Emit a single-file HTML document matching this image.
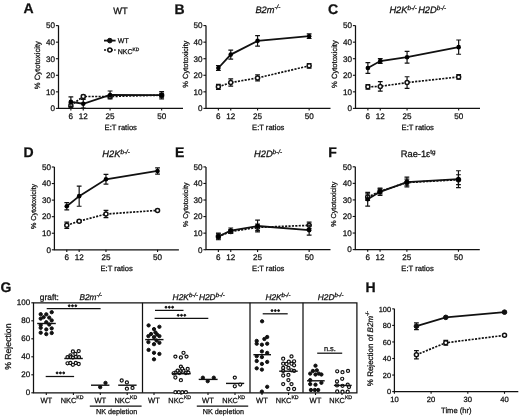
<!DOCTYPE html>
<html><head><meta charset="utf-8"><title>Figure</title>
<style>
html,body{margin:0;padding:0;background:#fff;}
body{width:520px;height:418px;overflow:hidden;}
svg{display:block;will-change:transform;text-rendering:geometricPrecision;font-family:"Liberation Sans",sans-serif;}
</style></head>
<body>
<svg width="520" height="418" viewBox="0 0 520 418" fill="#111" stroke="#111">
<rect width="520" height="418" fill="#fff" stroke="none"/>
<g stroke="none">
</g>
<g>
<path d="M58.5 25.6V108.4H183" fill="none" stroke-width="1.25"/>
<line x1="55.9" y1="108.4" x2="58.5" y2="108.4" stroke-width="1.1" />
<text stroke="#111" stroke-width="0.26" x="55" y="111.2" font-size="8.1" text-anchor="end" >0</text>
<line x1="55.9" y1="91.84" x2="58.5" y2="91.84" stroke-width="1.1" />
<text stroke="#111" stroke-width="0.26" x="55" y="94.64" font-size="8.1" text-anchor="end" >10</text>
<line x1="55.9" y1="75.28" x2="58.5" y2="75.28" stroke-width="1.1" />
<text stroke="#111" stroke-width="0.26" x="55" y="78.08" font-size="8.1" text-anchor="end" >20</text>
<line x1="55.9" y1="58.72" x2="58.5" y2="58.72" stroke-width="1.1" />
<text stroke="#111" stroke-width="0.26" x="55" y="61.52" font-size="8.1" text-anchor="end" >30</text>
<line x1="55.9" y1="42.16" x2="58.5" y2="42.16" stroke-width="1.1" />
<text stroke="#111" stroke-width="0.26" x="55" y="44.96" font-size="8.1" text-anchor="end" >40</text>
<line x1="55.9" y1="25.6" x2="58.5" y2="25.6" stroke-width="1.1" />
<text stroke="#111" stroke-width="0.26" x="55" y="28.4" font-size="8.1" text-anchor="end" >50</text>
<line x1="70.88" y1="108.4" x2="70.88" y2="110.6" stroke-width="1.1" />
<text stroke="#111" stroke-width="0.26" x="70.88" y="118.8" font-size="8.1" text-anchor="middle" >6</text>
<line x1="83.26" y1="108.4" x2="83.26" y2="110.6" stroke-width="1.1" />
<text stroke="#111" stroke-width="0.26" x="83.26" y="118.8" font-size="8.1" text-anchor="middle" >12</text>
<line x1="110.08" y1="108.4" x2="110.08" y2="110.6" stroke-width="1.1" />
<text stroke="#111" stroke-width="0.26" x="110.08" y="118.8" font-size="8.1" text-anchor="middle" >25</text>
<line x1="161.65" y1="108.4" x2="161.65" y2="110.6" stroke-width="1.1" />
<text stroke="#111" stroke-width="0.26" x="161.65" y="118.8" font-size="8.1" text-anchor="middle" >50</text>
<text stroke="#111" stroke-width="0.26" x="120.75" y="129.5" font-size="7.6" text-anchor="middle" >E:T ratios</text>
<text stroke="#111" stroke-width="0.26" transform="translate(39.8 65.2) rotate(-90)" font-size="7.7" text-anchor="middle">% Cytotoxicity</text>
<polyline points="70.88,105.42 83.26,96.48 110.08,96.48 161.65,95.15" fill="none" stroke-width="1.7" stroke-dasharray="2.1 1.3"/>
<path d="M70.88 102.94V107.9M68.48 102.94H73.28M68.48 107.9H73.28" fill="none" stroke-width="1.2"/>
<path d="M83.26 95.15V97.8M80.86 95.15H85.66M80.86 97.8H85.66" fill="none" stroke-width="1.2"/>
<path d="M110.08 95.15V97.8M107.67 95.15H112.48M107.67 97.8H112.48" fill="none" stroke-width="1.2"/>
<path d="M161.65 93.16V97.14M159.25 93.16H164.05M159.25 97.14H164.05" fill="none" stroke-width="1.2"/>
<circle cx="70.88" cy="105.42" r="2.0" fill="#fff" stroke-width="1.5"/>
<circle cx="83.26" cy="96.48" r="2.0" fill="#fff" stroke-width="1.5"/>
<circle cx="110.08" cy="96.48" r="2.0" fill="#fff" stroke-width="1.5"/>
<circle cx="161.65" cy="95.15" r="2.0" fill="#fff" stroke-width="1.5"/>
<polyline points="70.88,101.78 83.26,103.76 110.08,94.99 161.65,95.15" fill="none" stroke-width="1.8"/>
<path d="M70.88 96.97V106.58M68.48 96.97H73.28M68.48 106.58H73.28" fill="none" stroke-width="1.2"/>
<path d="M83.26 99.46V108.07M80.86 99.46H85.66M80.86 108.07H85.66" fill="none" stroke-width="1.2"/>
<path d="M110.08 91.01V98.96M107.67 91.01H112.48M107.67 98.96H112.48" fill="none" stroke-width="1.2"/>
<path d="M161.65 91.51V98.8M159.25 91.51H164.05M159.25 98.8H164.05" fill="none" stroke-width="1.2"/>
<circle cx="70.88" cy="101.78" r="2.3" fill="#000" stroke="none"/>
<circle cx="83.26" cy="103.76" r="2.3" fill="#000" stroke="none"/>
<circle cx="110.08" cy="94.99" r="2.3" fill="#000" stroke="none"/>
<circle cx="161.65" cy="95.15" r="2.3" fill="#000" stroke="none"/>
<path d="M206 25.6V108.4H330.5" fill="none" stroke-width="1.25"/>
<line x1="203.4" y1="108.4" x2="206" y2="108.4" stroke-width="1.1" />
<text stroke="#111" stroke-width="0.26" x="202.5" y="111.2" font-size="8.1" text-anchor="end" >0</text>
<line x1="203.4" y1="91.84" x2="206" y2="91.84" stroke-width="1.1" />
<text stroke="#111" stroke-width="0.26" x="202.5" y="94.64" font-size="8.1" text-anchor="end" >10</text>
<line x1="203.4" y1="75.28" x2="206" y2="75.28" stroke-width="1.1" />
<text stroke="#111" stroke-width="0.26" x="202.5" y="78.08" font-size="8.1" text-anchor="end" >20</text>
<line x1="203.4" y1="58.72" x2="206" y2="58.72" stroke-width="1.1" />
<text stroke="#111" stroke-width="0.26" x="202.5" y="61.52" font-size="8.1" text-anchor="end" >30</text>
<line x1="203.4" y1="42.16" x2="206" y2="42.16" stroke-width="1.1" />
<text stroke="#111" stroke-width="0.26" x="202.5" y="44.96" font-size="8.1" text-anchor="end" >40</text>
<line x1="203.4" y1="25.6" x2="206" y2="25.6" stroke-width="1.1" />
<text stroke="#111" stroke-width="0.26" x="202.5" y="28.4" font-size="8.1" text-anchor="end" >50</text>
<line x1="218.38" y1="108.4" x2="218.38" y2="110.6" stroke-width="1.1" />
<text stroke="#111" stroke-width="0.26" x="218.38" y="118.8" font-size="8.1" text-anchor="middle" >6</text>
<line x1="230.76" y1="108.4" x2="230.76" y2="110.6" stroke-width="1.1" />
<text stroke="#111" stroke-width="0.26" x="230.76" y="118.8" font-size="8.1" text-anchor="middle" >12</text>
<line x1="257.57" y1="108.4" x2="257.57" y2="110.6" stroke-width="1.1" />
<text stroke="#111" stroke-width="0.26" x="257.57" y="118.8" font-size="8.1" text-anchor="middle" >25</text>
<line x1="309.15" y1="108.4" x2="309.15" y2="110.6" stroke-width="1.1" />
<text stroke="#111" stroke-width="0.26" x="309.15" y="118.8" font-size="8.1" text-anchor="middle" >50</text>
<text stroke="#111" stroke-width="0.26" x="268.25" y="129.5" font-size="7.6" text-anchor="middle" >E:T ratios</text>
<text stroke="#111" stroke-width="0.26" transform="translate(187.5 64.2) rotate(-90)" font-size="7.5" text-anchor="middle">% Cytotoxicity</text>
<polyline points="218.38,86.87 230.76,82.57 257.57,77.93 309.15,65.84" fill="none" stroke-width="1.7" stroke-dasharray="2.1 1.3"/>
<path d="M218.38 84.39V89.36M215.98 84.39H220.78M215.98 89.36H220.78" fill="none" stroke-width="1.2"/>
<path d="M230.76 78.92V86.21M228.36 78.92H233.16M228.36 86.21H233.16" fill="none" stroke-width="1.2"/>
<path d="M257.57 74.95V80.91M255.17 74.95H259.97M255.17 80.91H259.97" fill="none" stroke-width="1.2"/>
<path d="M309.15 63.52V68.16M306.75 63.52H311.55M306.75 68.16H311.55" fill="none" stroke-width="1.2"/>
<circle cx="218.38" cy="86.87" r="2.0" fill="#fff" stroke-width="1.5"/>
<circle cx="230.76" cy="82.57" r="2.0" fill="#fff" stroke-width="1.5"/>
<circle cx="257.57" cy="77.93" r="2.0" fill="#fff" stroke-width="1.5"/>
<circle cx="309.15" cy="65.84" r="2.0" fill="#fff" stroke-width="1.5"/>
<polyline points="218.38,67.99 230.76,54.58 257.57,40.84 309.15,36.2" fill="none" stroke-width="1.8"/>
<path d="M218.38 65.51V70.48M215.98 65.51H220.78M215.98 70.48H220.78" fill="none" stroke-width="1.2"/>
<path d="M230.76 50.11V59.05M228.36 50.11H233.16M228.36 59.05H233.16" fill="none" stroke-width="1.2"/>
<path d="M257.57 35.54V46.13M255.17 35.54H259.97M255.17 46.13H259.97" fill="none" stroke-width="1.2"/>
<path d="M309.15 33.88V38.52M306.75 33.88H311.55M306.75 38.52H311.55" fill="none" stroke-width="1.2"/>
<circle cx="218.38" cy="67.99" r="2.3" fill="#000" stroke="none"/>
<circle cx="230.76" cy="54.58" r="2.3" fill="#000" stroke="none"/>
<circle cx="257.57" cy="40.84" r="2.3" fill="#000" stroke="none"/>
<circle cx="309.15" cy="36.2" r="2.3" fill="#000" stroke="none"/>
<path d="M355.5 25.6V108.4H480" fill="none" stroke-width="1.25"/>
<line x1="352.9" y1="108.4" x2="355.5" y2="108.4" stroke-width="1.1" />
<text stroke="#111" stroke-width="0.26" x="352" y="111.2" font-size="8.1" text-anchor="end" >0</text>
<line x1="352.9" y1="91.84" x2="355.5" y2="91.84" stroke-width="1.1" />
<text stroke="#111" stroke-width="0.26" x="352" y="94.64" font-size="8.1" text-anchor="end" >10</text>
<line x1="352.9" y1="75.28" x2="355.5" y2="75.28" stroke-width="1.1" />
<text stroke="#111" stroke-width="0.26" x="352" y="78.08" font-size="8.1" text-anchor="end" >20</text>
<line x1="352.9" y1="58.72" x2="355.5" y2="58.72" stroke-width="1.1" />
<text stroke="#111" stroke-width="0.26" x="352" y="61.52" font-size="8.1" text-anchor="end" >30</text>
<line x1="352.9" y1="42.16" x2="355.5" y2="42.16" stroke-width="1.1" />
<text stroke="#111" stroke-width="0.26" x="352" y="44.96" font-size="8.1" text-anchor="end" >40</text>
<line x1="352.9" y1="25.6" x2="355.5" y2="25.6" stroke-width="1.1" />
<text stroke="#111" stroke-width="0.26" x="352" y="28.4" font-size="8.1" text-anchor="end" >50</text>
<line x1="367.88" y1="108.4" x2="367.88" y2="110.6" stroke-width="1.1" />
<text stroke="#111" stroke-width="0.26" x="367.88" y="118.8" font-size="8.1" text-anchor="middle" >6</text>
<line x1="380.26" y1="108.4" x2="380.26" y2="110.6" stroke-width="1.1" />
<text stroke="#111" stroke-width="0.26" x="380.26" y="118.8" font-size="8.1" text-anchor="middle" >12</text>
<line x1="407.07" y1="108.4" x2="407.07" y2="110.6" stroke-width="1.1" />
<text stroke="#111" stroke-width="0.26" x="407.07" y="118.8" font-size="8.1" text-anchor="middle" >25</text>
<line x1="458.65" y1="108.4" x2="458.65" y2="110.6" stroke-width="1.1" />
<text stroke="#111" stroke-width="0.26" x="458.65" y="118.8" font-size="8.1" text-anchor="middle" >50</text>
<text stroke="#111" stroke-width="0.26" x="417.75" y="129.5" font-size="7.6" text-anchor="middle" >E:T ratios</text>
<text stroke="#111" stroke-width="0.26" transform="translate(337.4 64.1) rotate(-90)" font-size="7.6" text-anchor="middle">% Cytotoxicity</text>
<polyline points="367.88,86.87 380.26,86.38 407.07,82.57 458.65,76.94" fill="none" stroke-width="1.7" stroke-dasharray="2.1 1.3"/>
<path d="M367.88 84.55V89.19M365.48 84.55H370.28M365.48 89.19H370.28" fill="none" stroke-width="1.2"/>
<path d="M380.26 81.57V91.18M377.86 81.57H382.66M377.86 91.18H382.66" fill="none" stroke-width="1.2"/>
<path d="M407.07 76.77V88.36M404.68 76.77H409.47M404.68 88.36H409.47" fill="none" stroke-width="1.2"/>
<path d="M458.65 74.62V79.25M456.25 74.62H461.05M456.25 79.25H461.05" fill="none" stroke-width="1.2"/>
<circle cx="367.88" cy="86.87" r="2.0" fill="#fff" stroke-width="1.5"/>
<circle cx="380.26" cy="86.38" r="2.0" fill="#fff" stroke-width="1.5"/>
<circle cx="407.07" cy="82.57" r="2.0" fill="#fff" stroke-width="1.5"/>
<circle cx="458.65" cy="76.94" r="2.0" fill="#fff" stroke-width="1.5"/>
<polyline points="367.88,67.99 380.26,61.04 407.07,57.23 458.65,47.13" fill="none" stroke-width="1.8"/>
<path d="M367.88 62.69V73.29M365.48 62.69H370.28M365.48 73.29H370.28" fill="none" stroke-width="1.2"/>
<path d="M380.26 58.72V63.36M377.86 58.72H382.66M377.86 63.36H382.66" fill="none" stroke-width="1.2"/>
<path d="M407.07 51.43V63.03M404.68 51.43H409.47M404.68 63.03H409.47" fill="none" stroke-width="1.2"/>
<path d="M458.65 40.01V54.25M456.25 40.01H461.05M456.25 54.25H461.05" fill="none" stroke-width="1.2"/>
<circle cx="367.88" cy="67.99" r="2.3" fill="#000" stroke="none"/>
<circle cx="380.26" cy="61.04" r="2.3" fill="#000" stroke="none"/>
<circle cx="407.07" cy="57.23" r="2.3" fill="#000" stroke="none"/>
<circle cx="458.65" cy="47.13" r="2.3" fill="#000" stroke="none"/>
<path d="M54.4 167V249.8H178.9" fill="none" stroke-width="1.25"/>
<line x1="51.8" y1="249.8" x2="54.4" y2="249.8" stroke-width="1.1" />
<text stroke="#111" stroke-width="0.26" x="50.9" y="252.6" font-size="8.1" text-anchor="end" >0</text>
<line x1="51.8" y1="233.24" x2="54.4" y2="233.24" stroke-width="1.1" />
<text stroke="#111" stroke-width="0.26" x="50.9" y="236.04" font-size="8.1" text-anchor="end" >10</text>
<line x1="51.8" y1="216.68" x2="54.4" y2="216.68" stroke-width="1.1" />
<text stroke="#111" stroke-width="0.26" x="50.9" y="219.48" font-size="8.1" text-anchor="end" >20</text>
<line x1="51.8" y1="200.12" x2="54.4" y2="200.12" stroke-width="1.1" />
<text stroke="#111" stroke-width="0.26" x="50.9" y="202.92" font-size="8.1" text-anchor="end" >30</text>
<line x1="51.8" y1="183.56" x2="54.4" y2="183.56" stroke-width="1.1" />
<text stroke="#111" stroke-width="0.26" x="50.9" y="186.36" font-size="8.1" text-anchor="end" >40</text>
<line x1="51.8" y1="167" x2="54.4" y2="167" stroke-width="1.1" />
<text stroke="#111" stroke-width="0.26" x="50.9" y="169.8" font-size="8.1" text-anchor="end" >50</text>
<line x1="66.78" y1="249.8" x2="66.78" y2="252" stroke-width="1.1" />
<text stroke="#111" stroke-width="0.26" x="66.78" y="260.2" font-size="8.1" text-anchor="middle" >6</text>
<line x1="79.16" y1="249.8" x2="79.16" y2="252" stroke-width="1.1" />
<text stroke="#111" stroke-width="0.26" x="79.16" y="260.2" font-size="8.1" text-anchor="middle" >12</text>
<line x1="105.97" y1="249.8" x2="105.97" y2="252" stroke-width="1.1" />
<text stroke="#111" stroke-width="0.26" x="105.97" y="260.2" font-size="8.1" text-anchor="middle" >25</text>
<line x1="157.55" y1="249.8" x2="157.55" y2="252" stroke-width="1.1" />
<text stroke="#111" stroke-width="0.26" x="157.55" y="260.2" font-size="8.1" text-anchor="middle" >50</text>
<text stroke="#111" stroke-width="0.26" x="116.65" y="270.9" font-size="7.6" text-anchor="middle" >E:T ratios</text>
<text stroke="#111" stroke-width="0.26" transform="translate(35.8 206.5) rotate(-90)" font-size="7.2" text-anchor="middle">% Cytotoxicity</text>
<polyline points="66.78,225.29 79.16,221.15 105.97,214.03 157.55,210.39" fill="none" stroke-width="1.7" stroke-dasharray="2.1 1.3"/>
<path d="M66.78 222.14V228.44M64.38 222.14H69.18M64.38 228.44H69.18" fill="none" stroke-width="1.2"/>
<path d="M79.16 220.16V222.14M76.76 220.16H81.56M76.76 222.14H81.56" fill="none" stroke-width="1.2"/>
<path d="M105.97 210.39V217.67M103.57 210.39H108.38M103.57 217.67H108.38" fill="none" stroke-width="1.2"/>
<path d="M157.55 209.39V211.38M155.15 209.39H159.95M155.15 211.38H159.95" fill="none" stroke-width="1.2"/>
<circle cx="66.78" cy="225.29" r="2.0" fill="#fff" stroke-width="1.5"/>
<circle cx="79.16" cy="221.15" r="2.0" fill="#fff" stroke-width="1.5"/>
<circle cx="105.97" cy="214.03" r="2.0" fill="#fff" stroke-width="1.5"/>
<circle cx="157.55" cy="210.39" r="2.0" fill="#fff" stroke-width="1.5"/>
<polyline points="66.78,206.25 79.16,196.15 105.97,179.25 157.55,170.97" fill="none" stroke-width="1.8"/>
<path d="M66.78 202.6V209.89M64.38 202.6H69.18M64.38 209.89H69.18" fill="none" stroke-width="1.2"/>
<path d="M79.16 186.04V206.25M76.76 186.04H81.56M76.76 206.25H81.56" fill="none" stroke-width="1.2"/>
<path d="M105.97 174.45V184.06M103.57 174.45H108.38M103.57 184.06H108.38" fill="none" stroke-width="1.2"/>
<path d="M157.55 167.83V174.12M155.15 167.83H159.95M155.15 174.12H159.95" fill="none" stroke-width="1.2"/>
<circle cx="66.78" cy="206.25" r="2.3" fill="#000" stroke="none"/>
<circle cx="79.16" cy="196.15" r="2.3" fill="#000" stroke="none"/>
<circle cx="105.97" cy="179.25" r="2.3" fill="#000" stroke="none"/>
<circle cx="157.55" cy="170.97" r="2.3" fill="#000" stroke="none"/>
<path d="M206 166.9V249.7H330.5" fill="none" stroke-width="1.25"/>
<line x1="203.4" y1="249.7" x2="206" y2="249.7" stroke-width="1.1" />
<text stroke="#111" stroke-width="0.26" x="202.5" y="252.5" font-size="8.1" text-anchor="end" >0</text>
<line x1="203.4" y1="233.14" x2="206" y2="233.14" stroke-width="1.1" />
<text stroke="#111" stroke-width="0.26" x="202.5" y="235.94" font-size="8.1" text-anchor="end" >10</text>
<line x1="203.4" y1="216.58" x2="206" y2="216.58" stroke-width="1.1" />
<text stroke="#111" stroke-width="0.26" x="202.5" y="219.38" font-size="8.1" text-anchor="end" >20</text>
<line x1="203.4" y1="200.02" x2="206" y2="200.02" stroke-width="1.1" />
<text stroke="#111" stroke-width="0.26" x="202.5" y="202.82" font-size="8.1" text-anchor="end" >30</text>
<line x1="203.4" y1="183.46" x2="206" y2="183.46" stroke-width="1.1" />
<text stroke="#111" stroke-width="0.26" x="202.5" y="186.26" font-size="8.1" text-anchor="end" >40</text>
<line x1="203.4" y1="166.9" x2="206" y2="166.9" stroke-width="1.1" />
<text stroke="#111" stroke-width="0.26" x="202.5" y="169.7" font-size="8.1" text-anchor="end" >50</text>
<line x1="218.38" y1="249.7" x2="218.38" y2="251.9" stroke-width="1.1" />
<text stroke="#111" stroke-width="0.26" x="218.38" y="260.1" font-size="8.1" text-anchor="middle" >6</text>
<line x1="230.76" y1="249.7" x2="230.76" y2="251.9" stroke-width="1.1" />
<text stroke="#111" stroke-width="0.26" x="230.76" y="260.1" font-size="8.1" text-anchor="middle" >12</text>
<line x1="257.57" y1="249.7" x2="257.57" y2="251.9" stroke-width="1.1" />
<text stroke="#111" stroke-width="0.26" x="257.57" y="260.1" font-size="8.1" text-anchor="middle" >25</text>
<line x1="309.15" y1="249.7" x2="309.15" y2="251.9" stroke-width="1.1" />
<text stroke="#111" stroke-width="0.26" x="309.15" y="260.1" font-size="8.1" text-anchor="middle" >50</text>
<text stroke="#111" stroke-width="0.26" x="268.25" y="270.8" font-size="7.6" text-anchor="middle" >E:T ratios</text>
<text stroke="#111" stroke-width="0.26" transform="translate(187.8 204.8) rotate(-90)" font-size="7.1" text-anchor="middle">% Cytotoxicity</text>
<polyline points="218.38,236.45 230.76,231.48 257.57,227.34 309.15,225.36" fill="none" stroke-width="1.7" stroke-dasharray="2.1 1.3"/>
<path d="M218.38 233.97V238.94M215.98 233.97H220.78M215.98 238.94H220.78" fill="none" stroke-width="1.2"/>
<path d="M230.76 229.5V233.47M228.36 229.5H233.16M228.36 233.47H233.16" fill="none" stroke-width="1.2"/>
<path d="M257.57 224.03V230.66M255.17 224.03H259.97M255.17 230.66H259.97" fill="none" stroke-width="1.2"/>
<path d="M309.15 222.04V228.67M306.75 222.04H311.55M306.75 228.67H311.55" fill="none" stroke-width="1.2"/>
<circle cx="218.38" cy="236.45" r="2.0" fill="#fff" stroke-width="1.5"/>
<circle cx="230.76" cy="231.48" r="2.0" fill="#fff" stroke-width="1.5"/>
<circle cx="257.57" cy="227.34" r="2.0" fill="#fff" stroke-width="1.5"/>
<circle cx="309.15" cy="225.36" r="2.0" fill="#fff" stroke-width="1.5"/>
<polyline points="218.38,236.45 230.76,230.66 257.57,226.02 309.15,230.16" fill="none" stroke-width="1.8"/>
<path d="M218.38 233.14V239.76M215.98 233.14H220.78M215.98 239.76H220.78" fill="none" stroke-width="1.2"/>
<path d="M230.76 228.01V233.31M228.36 228.01H233.16M228.36 233.31H233.16" fill="none" stroke-width="1.2"/>
<path d="M257.57 220.22V231.82M255.17 220.22H259.97M255.17 231.82H259.97" fill="none" stroke-width="1.2"/>
<path d="M309.15 225.19V235.13M306.75 225.19H311.55M306.75 235.13H311.55" fill="none" stroke-width="1.2"/>
<circle cx="218.38" cy="236.45" r="2.3" fill="#000" stroke="none"/>
<circle cx="230.76" cy="230.66" r="2.3" fill="#000" stroke="none"/>
<circle cx="257.57" cy="226.02" r="2.3" fill="#000" stroke="none"/>
<circle cx="309.15" cy="230.16" r="2.3" fill="#000" stroke="none"/>
<path d="M355.3 166.8V249.6H479.8" fill="none" stroke-width="1.25"/>
<line x1="352.7" y1="249.6" x2="355.3" y2="249.6" stroke-width="1.1" />
<text stroke="#111" stroke-width="0.26" x="351.8" y="252.4" font-size="8.1" text-anchor="end" >0</text>
<line x1="352.7" y1="233.04" x2="355.3" y2="233.04" stroke-width="1.1" />
<text stroke="#111" stroke-width="0.26" x="351.8" y="235.84" font-size="8.1" text-anchor="end" >10</text>
<line x1="352.7" y1="216.48" x2="355.3" y2="216.48" stroke-width="1.1" />
<text stroke="#111" stroke-width="0.26" x="351.8" y="219.28" font-size="8.1" text-anchor="end" >20</text>
<line x1="352.7" y1="199.92" x2="355.3" y2="199.92" stroke-width="1.1" />
<text stroke="#111" stroke-width="0.26" x="351.8" y="202.72" font-size="8.1" text-anchor="end" >30</text>
<line x1="352.7" y1="183.36" x2="355.3" y2="183.36" stroke-width="1.1" />
<text stroke="#111" stroke-width="0.26" x="351.8" y="186.16" font-size="8.1" text-anchor="end" >40</text>
<line x1="352.7" y1="166.8" x2="355.3" y2="166.8" stroke-width="1.1" />
<text stroke="#111" stroke-width="0.26" x="351.8" y="169.6" font-size="8.1" text-anchor="end" >50</text>
<line x1="367.68" y1="249.6" x2="367.68" y2="251.8" stroke-width="1.1" />
<text stroke="#111" stroke-width="0.26" x="367.68" y="260" font-size="8.1" text-anchor="middle" >6</text>
<line x1="380.06" y1="249.6" x2="380.06" y2="251.8" stroke-width="1.1" />
<text stroke="#111" stroke-width="0.26" x="380.06" y="260" font-size="8.1" text-anchor="middle" >12</text>
<line x1="406.88" y1="249.6" x2="406.88" y2="251.8" stroke-width="1.1" />
<text stroke="#111" stroke-width="0.26" x="406.88" y="260" font-size="8.1" text-anchor="middle" >25</text>
<line x1="458.45" y1="249.6" x2="458.45" y2="251.8" stroke-width="1.1" />
<text stroke="#111" stroke-width="0.26" x="458.45" y="260" font-size="8.1" text-anchor="middle" >50</text>
<text stroke="#111" stroke-width="0.26" x="417.55" y="270.7" font-size="7.6" text-anchor="middle" >E:T ratios</text>
<text stroke="#111" stroke-width="0.26" transform="translate(336 204.3) rotate(-90)" font-size="7.2" text-anchor="middle">% Cytotoxicity</text>
<polyline points="367.68,197.1 380.06,191.31 406.88,182.53 458.45,179.72" fill="none" stroke-width="1.7" stroke-dasharray="2.1 1.3"/>
<path d="M367.68 193.79V200.42M365.28 193.79H370.08M365.28 200.42H370.08" fill="none" stroke-width="1.2"/>
<path d="M380.06 188.82V193.79M377.66 188.82H382.46M377.66 193.79H382.46" fill="none" stroke-width="1.2"/>
<path d="M406.88 179.22V185.84M404.48 179.22H409.27M404.48 185.84H409.27" fill="none" stroke-width="1.2"/>
<path d="M458.45 174.75V184.68M456.05 174.75H460.85M456.05 184.68H460.85" fill="none" stroke-width="1.2"/>
<circle cx="367.68" cy="197.1" r="2.0" fill="#fff" stroke-width="1.5"/>
<circle cx="380.06" cy="191.31" r="2.0" fill="#fff" stroke-width="1.5"/>
<circle cx="406.88" cy="182.53" r="2.0" fill="#fff" stroke-width="1.5"/>
<circle cx="458.45" cy="179.72" r="2.0" fill="#fff" stroke-width="1.5"/>
<polyline points="367.68,199.26 380.06,191.81 406.88,182.04 458.45,179.22" fill="none" stroke-width="1.8"/>
<path d="M367.68 192.3V206.21M365.28 192.3H370.08M365.28 206.21H370.08" fill="none" stroke-width="1.2"/>
<path d="M380.06 188.16V195.45M377.66 188.16H382.46M377.66 195.45H382.46" fill="none" stroke-width="1.2"/>
<path d="M406.88 177.07V187M404.48 177.07H409.27M404.48 187H409.27" fill="none" stroke-width="1.2"/>
<path d="M458.45 170.77V187.67M456.05 170.77H460.85M456.05 187.67H460.85" fill="none" stroke-width="1.2"/>
<circle cx="367.68" cy="199.26" r="2.3" fill="#000" stroke="none"/>
<circle cx="380.06" cy="191.81" r="2.3" fill="#000" stroke="none"/>
<circle cx="406.88" cy="182.04" r="2.3" fill="#000" stroke="none"/>
<circle cx="458.45" cy="179.22" r="2.3" fill="#000" stroke="none"/>
<line x1="104" y1="40.6" x2="115.6" y2="40.6" stroke-width="1.8" />
<circle cx="109.8" cy="40.6" r="2.3"/>
<text stroke="#111" stroke-width="0.26" x="117.8" y="43.2" font-size="7.0" text-anchor="start" >WT</text>
<line x1="104" y1="50.1" x2="115.6" y2="50.1" stroke-width="1.5" stroke-dasharray="2.1 1.3"/>
<circle cx="109.8" cy="50.1" r="2.0" fill="#fff" stroke-width="1.5"/>
<text stroke="#111" stroke-width="0.26" x="117.8" y="54.3" font-size="7.0">NKC<tspan font-size="4.8" dy="-3.0">KD</tspan></text>
<text stroke="#111" stroke-width="0.26" x="120.4" y="13.7" font-size="9.3" text-anchor="middle" >WT</text>
<text stroke="#111" stroke-width="0.26" x="255.4" y="12.8" font-size="9.3" font-style="italic">B2m<tspan font-size="6.3" dy="-3.7">-/-</tspan></text>
<text stroke="#111" stroke-width="0.26" x="389.4" y="13.4" font-size="9.3" font-style="italic">H2K<tspan font-size="6.3" dy="-3.7">b-/-</tspan><tspan dy="3.7" dx="1.2">H2D</tspan><tspan font-size="6.3" dy="-3.7">b-/-</tspan></text>
<text stroke="#111" stroke-width="0.26" x="102.3" y="157.3" font-size="9.3" font-style="italic">H2K<tspan font-size="6.3" dy="-3.7">b-/-</tspan></text>
<text stroke="#111" stroke-width="0.26" x="254.0" y="157.3" font-size="9.3" font-style="italic">H2D<tspan font-size="6.3" dy="-3.7">b-/-</tspan></text>
<text stroke="#111" stroke-width="0.26" x="400.8" y="157.3" font-size="9.3">Rae-1ε<tspan font-size="6.3" dy="-3.7">tg</tspan></text>
<text stroke="#111" stroke-width="0.26" x="23.6" y="13.2" font-size="14" text-anchor="start" font-weight="bold">A</text>
<text stroke="#111" stroke-width="0.26" x="174.6" y="13.6" font-size="14" text-anchor="start" font-weight="bold">B</text>
<text stroke="#111" stroke-width="0.26" x="327.9" y="13.5" font-size="14" text-anchor="start" font-weight="bold">C</text>
<text stroke="#111" stroke-width="0.26" x="23.6" y="157.1" font-size="14" text-anchor="start" font-weight="bold">D</text>
<text stroke="#111" stroke-width="0.26" x="175.1" y="157" font-size="14" text-anchor="start" font-weight="bold">E</text>
<text stroke="#111" stroke-width="0.26" x="328.2" y="157.1" font-size="14" text-anchor="start" font-weight="bold">F</text>
<text stroke="#111" stroke-width="0.26" x="0.6" y="291.9" font-size="14" text-anchor="start" font-weight="bold">G</text>
<text stroke="#111" stroke-width="0.26" x="365.4" y="292.2" font-size="14" text-anchor="start" font-weight="bold">H</text>
<path d="M33.5 302.8H356.9V392.8H33.5Z" fill="none" stroke-width="1.25"/>
<line x1="142.5" y1="302.8" x2="142.5" y2="392.8" stroke-width="1.25" />
<line x1="250" y1="302.8" x2="250" y2="392.8" stroke-width="1.25" />
<line x1="303" y1="302.8" x2="303" y2="392.8" stroke-width="1.25" />
<line x1="31.3" y1="392.8" x2="33.5" y2="392.8" stroke-width="1.1" />
<text stroke="#111" stroke-width="0.26" x="30.1" y="395" font-size="8.0" text-anchor="end" >0</text>
<line x1="31.3" y1="374.8" x2="33.5" y2="374.8" stroke-width="1.1" />
<text stroke="#111" stroke-width="0.26" x="30.1" y="377" font-size="8.0" text-anchor="end" >20</text>
<line x1="31.3" y1="356.8" x2="33.5" y2="356.8" stroke-width="1.1" />
<text stroke="#111" stroke-width="0.26" x="30.1" y="359" font-size="8.0" text-anchor="end" >40</text>
<line x1="31.3" y1="338.8" x2="33.5" y2="338.8" stroke-width="1.1" />
<text stroke="#111" stroke-width="0.26" x="30.1" y="341" font-size="8.0" text-anchor="end" >60</text>
<line x1="31.3" y1="320.8" x2="33.5" y2="320.8" stroke-width="1.1" />
<text stroke="#111" stroke-width="0.26" x="30.1" y="323" font-size="8.0" text-anchor="end" >80</text>
<line x1="31.3" y1="302.8" x2="33.5" y2="302.8" stroke-width="1.1" />
<text stroke="#111" stroke-width="0.26" x="30.1" y="305" font-size="8.0" text-anchor="end" >100</text>
<text stroke="#111" stroke-width="0.26" transform="translate(11.3 346.7) rotate(-90)" font-size="8.7" text-anchor="middle">% Rejection</text>
<text stroke="#111" stroke-width="0.26" x="39.8" y="300" font-size="8.4" text-anchor="start" >graft:</text>
<text stroke="#111" stroke-width="0.26" x="79.4" y="300" font-size="8.3" font-style="italic">B2m<tspan font-size="6.0" dy="-3.3">-/-</tspan></text>
<text stroke="#111" stroke-width="0.26" x="172.6" y="300" font-size="8.4" font-style="italic">H2K<tspan font-size="6.0" dy="-3.3">b-/-</tspan><tspan dy="3.3" dx="1.0">H2D</tspan><tspan font-size="6.0" dy="-3.3">b-/-</tspan></text>
<text stroke="#111" stroke-width="0.26" x="265.4" y="300" font-size="8.3" font-style="italic">H2K<tspan font-size="6.0" dy="-3.3">b-/-</tspan></text>
<text stroke="#111" stroke-width="0.26" x="317.8" y="300" font-size="8.3" font-style="italic">H2D<tspan font-size="6.0" dy="-3.3">b-/-</tspan></text>
<line x1="46.3" y1="392.8" x2="46.3" y2="395" stroke-width="1.1" />
<text stroke="#111" stroke-width="0.26" x="46.3" y="402.7" font-size="7.6" text-anchor="middle" >WT</text>
<line x1="73.4" y1="392.8" x2="73.4" y2="395" stroke-width="1.1" />
<text stroke="#111" stroke-width="0.26" x="60.7" y="402.7" font-size="7.4">NKC<tspan font-size="5.2" dy="-3.4">KD</tspan></text>
<line x1="100.3" y1="392.8" x2="100.3" y2="395" stroke-width="1.1" />
<text stroke="#111" stroke-width="0.26" x="100.3" y="402.7" font-size="7.6" text-anchor="middle" >WT</text>
<line x1="127.2" y1="392.8" x2="127.2" y2="395" stroke-width="1.1" />
<text stroke="#111" stroke-width="0.26" x="114.5" y="402.7" font-size="7.4">NKC<tspan font-size="5.2" dy="-3.4">KD</tspan></text>
<line x1="154" y1="392.8" x2="154" y2="395" stroke-width="1.1" />
<text stroke="#111" stroke-width="0.26" x="154" y="402.7" font-size="7.6" text-anchor="middle" >WT</text>
<line x1="181" y1="392.8" x2="181" y2="395" stroke-width="1.1" />
<text stroke="#111" stroke-width="0.26" x="168.3" y="402.7" font-size="7.4">NKC<tspan font-size="5.2" dy="-3.4">KD</tspan></text>
<line x1="208" y1="392.8" x2="208" y2="395" stroke-width="1.1" />
<text stroke="#111" stroke-width="0.26" x="208" y="402.7" font-size="7.6" text-anchor="middle" >WT</text>
<line x1="235" y1="392.8" x2="235" y2="395" stroke-width="1.1" />
<text stroke="#111" stroke-width="0.26" x="222.3" y="402.7" font-size="7.4">NKC<tspan font-size="5.2" dy="-3.4">KD</tspan></text>
<line x1="262" y1="392.8" x2="262" y2="395" stroke-width="1.1" />
<text stroke="#111" stroke-width="0.26" x="262" y="402.7" font-size="7.6" text-anchor="middle" >WT</text>
<line x1="288.5" y1="392.8" x2="288.5" y2="395" stroke-width="1.1" />
<text stroke="#111" stroke-width="0.26" x="275.8" y="402.7" font-size="7.4">NKC<tspan font-size="5.2" dy="-3.4">KD</tspan></text>
<line x1="315.5" y1="392.8" x2="315.5" y2="395" stroke-width="1.1" />
<text stroke="#111" stroke-width="0.26" x="315.5" y="402.7" font-size="7.6" text-anchor="middle" >WT</text>
<line x1="342" y1="392.8" x2="342" y2="395" stroke-width="1.1" />
<text stroke="#111" stroke-width="0.26" x="329.3" y="402.7" font-size="7.4">NKC<tspan font-size="5.2" dy="-3.4">KD</tspan></text>
<line x1="89.8" y1="406" x2="141.6" y2="406" stroke-width="1.25" />
<text stroke="#111" stroke-width="0.26" x="116.6" y="413.9" font-size="7.2" text-anchor="middle" >NK depletion</text>
<line x1="196.8" y1="406" x2="248.2" y2="406" stroke-width="1.25" />
<text stroke="#111" stroke-width="0.26" x="223.4" y="413.9" font-size="7.2" text-anchor="middle" >NK depletion</text>
<circle cx="51.7" cy="312.2" r="1.65"/>
<circle cx="40.7" cy="314.2" r="1.65"/>
<circle cx="46.3" cy="314.3" r="1.65"/>
<circle cx="43.6" cy="317.2" r="1.65"/>
<circle cx="40.7" cy="318.6" r="1.65"/>
<circle cx="49.2" cy="317.6" r="1.65"/>
<circle cx="51.7" cy="320.4" r="1.65"/>
<circle cx="46.3" cy="322.2" r="1.65"/>
<circle cx="49.2" cy="324.5" r="1.65"/>
<circle cx="40.7" cy="325.1" r="1.65"/>
<circle cx="40.7" cy="327.8" r="1.65"/>
<circle cx="46.3" cy="329.4" r="1.65"/>
<circle cx="51.7" cy="328.4" r="1.65"/>
<circle cx="40.7" cy="332.7" r="1.65"/>
<circle cx="46.3" cy="334.1" r="1.65"/>
<circle cx="51.7" cy="333" r="1.65"/>
<line x1="37.2" y1="323.5" x2="55.8" y2="323.5" stroke-width="1.4" />
<circle cx="72.9" cy="351.5" r="1.55" fill="#fff" stroke-width="1.2"/>
<circle cx="78.7" cy="351.1" r="1.55" fill="#fff" stroke-width="1.2"/>
<circle cx="75.4" cy="354" r="1.55" fill="#fff" stroke-width="1.2"/>
<circle cx="70.4" cy="355.4" r="1.55" fill="#fff" stroke-width="1.2"/>
<circle cx="67.5" cy="357.2" r="1.55" fill="#fff" stroke-width="1.2"/>
<circle cx="70.8" cy="357.2" r="1.55" fill="#fff" stroke-width="1.2"/>
<circle cx="75.8" cy="356.9" r="1.55" fill="#fff" stroke-width="1.2"/>
<circle cx="79" cy="357.2" r="1.55" fill="#fff" stroke-width="1.2"/>
<circle cx="72.9" cy="357.6" r="1.55" fill="#fff" stroke-width="1.2"/>
<circle cx="67.5" cy="363.3" r="1.55" fill="#fff" stroke-width="1.2"/>
<circle cx="70.4" cy="363" r="1.55" fill="#fff" stroke-width="1.2"/>
<circle cx="72.9" cy="364.8" r="1.55" fill="#fff" stroke-width="1.2"/>
<circle cx="75.8" cy="363" r="1.55" fill="#fff" stroke-width="1.2"/>
<circle cx="78.7" cy="364" r="1.55" fill="#fff" stroke-width="1.2"/>
<line x1="64.3" y1="358.5" x2="82.8" y2="358.5" stroke-width="1.4" />
<line x1="46.7" y1="308.6" x2="100.6" y2="308.6" stroke-width="1.25" />
<circle cx="69.2" cy="305.8" r="0.95"/>
<circle cx="72.5" cy="305.8" r="0.95"/>
<circle cx="75.8" cy="305.8" r="0.95"/>
<line x1="45.7" y1="376.5" x2="74.1" y2="376.5" stroke-width="1.25" />
<circle cx="57.1" cy="372.9" r="0.95"/>
<circle cx="60.4" cy="372.9" r="0.95"/>
<circle cx="63.7" cy="372.9" r="0.95"/>
<line x1="91" y1="385.2" x2="109.4" y2="385.2" stroke-width="1.4" />
<circle cx="100.2" cy="387.2" r="1.65"/>
<circle cx="105.5" cy="382.9" r="1.65"/>
<line x1="118.2" y1="385.2" x2="136.6" y2="385.2" stroke-width="1.4" />
<circle cx="121.7" cy="380.5" r="1.55" fill="#fff" stroke-width="1.2"/>
<circle cx="126.9" cy="382.4" r="1.55" fill="#fff" stroke-width="1.2"/>
<circle cx="126.9" cy="388.7" r="1.55" fill="#fff" stroke-width="1.2"/>
<circle cx="132.5" cy="387.9" r="1.55" fill="#fff" stroke-width="1.2"/>
<circle cx="148.6" cy="325.4" r="1.65"/>
<circle cx="159.4" cy="326.8" r="1.65"/>
<circle cx="154" cy="329.1" r="1.65"/>
<circle cx="155.4" cy="332.4" r="1.65"/>
<circle cx="151.1" cy="334" r="1.65"/>
<circle cx="148.4" cy="336.1" r="1.65"/>
<circle cx="157" cy="334.5" r="1.65"/>
<circle cx="159.4" cy="336.1" r="1.65"/>
<circle cx="154" cy="337.2" r="1.65"/>
<circle cx="156.5" cy="340.5" r="1.65"/>
<circle cx="148.4" cy="342.1" r="1.65"/>
<circle cx="154" cy="344.2" r="1.65"/>
<circle cx="159.4" cy="342.8" r="1.65"/>
<circle cx="148.6" cy="349.9" r="1.65"/>
<circle cx="154" cy="352.8" r="1.65"/>
<circle cx="159.4" cy="353.9" r="1.65"/>
<circle cx="154" cy="359.3" r="1.65"/>
<line x1="145.2" y1="339.6" x2="163.5" y2="339.6" stroke-width="1.4" />
<circle cx="183.5" cy="352.8" r="1.55" fill="#fff" stroke-width="1.2"/>
<circle cx="175.4" cy="356.6" r="1.55" fill="#fff" stroke-width="1.2"/>
<circle cx="180.9" cy="357.5" r="1.55" fill="#fff" stroke-width="1.2"/>
<circle cx="186.5" cy="356.6" r="1.55" fill="#fff" stroke-width="1.2"/>
<circle cx="180.9" cy="366.7" r="1.55" fill="#fff" stroke-width="1.2"/>
<circle cx="187.7" cy="368.9" r="1.55" fill="#fff" stroke-width="1.2"/>
<circle cx="177.6" cy="370.7" r="1.55" fill="#fff" stroke-width="1.2"/>
<circle cx="180.5" cy="371.3" r="1.55" fill="#fff" stroke-width="1.2"/>
<circle cx="183.5" cy="370.7" r="1.55" fill="#fff" stroke-width="1.2"/>
<circle cx="175.4" cy="372.7" r="1.55" fill="#fff" stroke-width="1.2"/>
<circle cx="179.4" cy="373.1" r="1.55" fill="#fff" stroke-width="1.2"/>
<circle cx="185.9" cy="373.1" r="1.55" fill="#fff" stroke-width="1.2"/>
<circle cx="182.2" cy="368.6" r="1.55" fill="#fff" stroke-width="1.2"/>
<circle cx="188.4" cy="372.6" r="1.55" fill="#fff" stroke-width="1.2"/>
<circle cx="173.6" cy="373.3" r="1.55" fill="#fff" stroke-width="1.2"/>
<circle cx="175.4" cy="377.5" r="1.55" fill="#fff" stroke-width="1.2"/>
<circle cx="180.9" cy="380.2" r="1.55" fill="#fff" stroke-width="1.2"/>
<circle cx="175.4" cy="392.2" r="1.55" fill="#fff" stroke-width="1.2"/>
<circle cx="178.8" cy="392.2" r="1.55" fill="#fff" stroke-width="1.2"/>
<circle cx="182.3" cy="392.2" r="1.55" fill="#fff" stroke-width="1.2"/>
<circle cx="185.9" cy="392.2" r="1.55" fill="#fff" stroke-width="1.2"/>
<line x1="172.2" y1="373.7" x2="190.7" y2="373.7" stroke-width="1.4" />
<line x1="155" y1="310.4" x2="183.5" y2="310.4" stroke-width="1.25" />
<circle cx="166" cy="307.2" r="0.95"/>
<circle cx="169.3" cy="307.2" r="0.95"/>
<circle cx="172.6" cy="307.2" r="0.95"/>
<line x1="154.6" y1="318.4" x2="208.3" y2="318.4" stroke-width="1.25" />
<circle cx="178.2" cy="315.3" r="0.95"/>
<circle cx="181.5" cy="315.3" r="0.95"/>
<circle cx="184.8" cy="315.3" r="0.95"/>
<line x1="198.7" y1="379.4" x2="217.6" y2="379.4" stroke-width="1.4" />
<circle cx="202.9" cy="377.7" r="1.65"/>
<circle cx="207.7" cy="381.2" r="1.65"/>
<circle cx="213.8" cy="377.7" r="1.65"/>
<line x1="226" y1="383.4" x2="244.2" y2="383.4" stroke-width="1.4" />
<circle cx="234.8" cy="377.6" r="1.55" fill="#fff" stroke-width="1.2"/>
<circle cx="234.8" cy="386.3" r="1.55" fill="#fff" stroke-width="1.2"/>
<circle cx="240.2" cy="384.6" r="1.55" fill="#fff" stroke-width="1.2"/>
<circle cx="262.1" cy="321.3" r="1.65"/>
<circle cx="267.2" cy="337" r="1.65"/>
<circle cx="264.4" cy="339" r="1.65"/>
<circle cx="256.7" cy="340.9" r="1.65"/>
<circle cx="256.7" cy="343.7" r="1.65"/>
<circle cx="261.9" cy="344.7" r="1.65"/>
<circle cx="267.2" cy="343.7" r="1.65"/>
<circle cx="261.9" cy="351.4" r="1.65"/>
<circle cx="267.2" cy="352.9" r="1.65"/>
<circle cx="256.7" cy="356.2" r="1.65"/>
<circle cx="261.9" cy="357.1" r="1.65"/>
<circle cx="256.7" cy="361" r="1.65"/>
<circle cx="267.2" cy="361.9" r="1.65"/>
<circle cx="261.9" cy="363.9" r="1.65"/>
<circle cx="256.7" cy="368.3" r="1.65"/>
<circle cx="261.9" cy="369.6" r="1.65"/>
<circle cx="267.2" cy="386.8" r="1.65"/>
<circle cx="261.9" cy="391.6" r="1.65"/>
<line x1="253.4" y1="354.7" x2="271" y2="354.7" stroke-width="1.4" />
<circle cx="291.5" cy="356.4" r="1.55" fill="#fff" stroke-width="1.2"/>
<circle cx="283.2" cy="358.7" r="1.55" fill="#fff" stroke-width="1.2"/>
<circle cx="288.8" cy="361.7" r="1.55" fill="#fff" stroke-width="1.2"/>
<circle cx="294.1" cy="361.3" r="1.55" fill="#fff" stroke-width="1.2"/>
<circle cx="283.2" cy="363.7" r="1.55" fill="#fff" stroke-width="1.2"/>
<circle cx="286.5" cy="364" r="1.55" fill="#fff" stroke-width="1.2"/>
<circle cx="291.5" cy="363.7" r="1.55" fill="#fff" stroke-width="1.2"/>
<circle cx="294.1" cy="365.3" r="1.55" fill="#fff" stroke-width="1.2"/>
<circle cx="283.2" cy="367.9" r="1.55" fill="#fff" stroke-width="1.2"/>
<circle cx="288.4" cy="367.9" r="1.55" fill="#fff" stroke-width="1.2"/>
<circle cx="291.5" cy="370.3" r="1.55" fill="#fff" stroke-width="1.2"/>
<circle cx="283.2" cy="370.9" r="1.55" fill="#fff" stroke-width="1.2"/>
<circle cx="294.1" cy="370.9" r="1.55" fill="#fff" stroke-width="1.2"/>
<circle cx="283.2" cy="375.5" r="1.55" fill="#fff" stroke-width="1.2"/>
<circle cx="288.4" cy="374.9" r="1.55" fill="#fff" stroke-width="1.2"/>
<circle cx="288.4" cy="380.1" r="1.55" fill="#fff" stroke-width="1.2"/>
<circle cx="283.2" cy="384.1" r="1.55" fill="#fff" stroke-width="1.2"/>
<circle cx="291.5" cy="384.1" r="1.55" fill="#fff" stroke-width="1.2"/>
<circle cx="288.4" cy="389" r="1.55" fill="#fff" stroke-width="1.2"/>
<circle cx="294.1" cy="389" r="1.55" fill="#fff" stroke-width="1.2"/>
<line x1="279.2" y1="371.2" x2="297.7" y2="371.2" stroke-width="1.4" />
<line x1="262.7" y1="313.8" x2="287.7" y2="313.8" stroke-width="1.25" />
<circle cx="272" cy="310.6" r="0.95"/>
<circle cx="275.3" cy="310.6" r="0.95"/>
<circle cx="278.6" cy="310.6" r="0.95"/>
<circle cx="315.5" cy="365.7" r="1.65"/>
<circle cx="312.9" cy="370.9" r="1.65"/>
<circle cx="316.8" cy="370.3" r="1.65"/>
<circle cx="310.2" cy="373.6" r="1.65"/>
<circle cx="315.5" cy="374.5" r="1.65"/>
<circle cx="318.8" cy="373.6" r="1.65"/>
<circle cx="321.4" cy="374.5" r="1.65"/>
<circle cx="310.2" cy="380.1" r="1.65"/>
<circle cx="310.2" cy="384.1" r="1.65"/>
<circle cx="315.5" cy="384.7" r="1.65"/>
<circle cx="321.4" cy="382.8" r="1.65"/>
<circle cx="310.9" cy="390" r="1.65"/>
<circle cx="314.8" cy="390" r="1.65"/>
<circle cx="318.2" cy="390" r="1.65"/>
<line x1="307" y1="380.8" x2="324.7" y2="380.8" stroke-width="1.4" />
<circle cx="337.2" cy="371.3" r="1.55" fill="#fff" stroke-width="1.2"/>
<circle cx="342.5" cy="372.2" r="1.55" fill="#fff" stroke-width="1.2"/>
<circle cx="348" cy="370.9" r="1.55" fill="#fff" stroke-width="1.2"/>
<circle cx="342.2" cy="378.8" r="1.55" fill="#fff" stroke-width="1.2"/>
<circle cx="337" cy="381.4" r="1.55" fill="#fff" stroke-width="1.2"/>
<circle cx="337" cy="385.4" r="1.55" fill="#fff" stroke-width="1.2"/>
<circle cx="342.5" cy="385.8" r="1.55" fill="#fff" stroke-width="1.2"/>
<circle cx="347.7" cy="384.7" r="1.55" fill="#fff" stroke-width="1.2"/>
<circle cx="349" cy="387.1" r="1.55" fill="#fff" stroke-width="1.2"/>
<circle cx="337.2" cy="391.5" r="1.55" fill="#fff" stroke-width="1.2"/>
<circle cx="342.5" cy="391.7" r="1.55" fill="#fff" stroke-width="1.2"/>
<circle cx="347.7" cy="391.7" r="1.55" fill="#fff" stroke-width="1.2"/>
<line x1="333.9" y1="385.4" x2="351.7" y2="385.4" stroke-width="1.4" />
<line x1="317.2" y1="353.2" x2="342.2" y2="353.2" stroke-width="1.25" />
<text stroke="#111" stroke-width="0.26" x="329.9" y="351" font-size="7.4" text-anchor="middle" >n.s.</text>
<path d="M394.4 308.85V391.6H518.3" fill="none" stroke-width="1.25"/>
<line x1="392.2" y1="391.6" x2="394.4" y2="391.6" stroke-width="1.1" />
<text stroke="#111" stroke-width="0.26" x="391" y="394.25" font-size="7.4" text-anchor="end" >0</text>
<line x1="392.2" y1="375.05" x2="394.4" y2="375.05" stroke-width="1.1" />
<text stroke="#111" stroke-width="0.26" x="391" y="377.7" font-size="7.4" text-anchor="end" >20</text>
<line x1="392.2" y1="358.5" x2="394.4" y2="358.5" stroke-width="1.1" />
<text stroke="#111" stroke-width="0.26" x="391" y="361.15" font-size="7.4" text-anchor="end" >40</text>
<line x1="392.2" y1="341.95" x2="394.4" y2="341.95" stroke-width="1.1" />
<text stroke="#111" stroke-width="0.26" x="391" y="344.6" font-size="7.4" text-anchor="end" >60</text>
<line x1="392.2" y1="325.4" x2="394.4" y2="325.4" stroke-width="1.1" />
<text stroke="#111" stroke-width="0.26" x="391" y="328.05" font-size="7.4" text-anchor="end" >80</text>
<line x1="392.2" y1="308.85" x2="394.4" y2="308.85" stroke-width="1.1" />
<text stroke="#111" stroke-width="0.26" x="391" y="311.5" font-size="7.4" text-anchor="end" >100</text>
<line x1="394.4" y1="391.6" x2="394.4" y2="393.8" stroke-width="1.1" />
<text stroke="#111" stroke-width="0.26" x="394.4" y="402.2" font-size="7.6" text-anchor="middle" >10</text>
<line x1="431.1" y1="391.6" x2="431.1" y2="393.8" stroke-width="1.1" />
<text stroke="#111" stroke-width="0.26" x="431.1" y="402.2" font-size="7.6" text-anchor="middle" >20</text>
<line x1="467.8" y1="391.6" x2="467.8" y2="393.8" stroke-width="1.1" />
<text stroke="#111" stroke-width="0.26" x="467.8" y="402.2" font-size="7.6" text-anchor="middle" >30</text>
<line x1="504.5" y1="391.6" x2="504.5" y2="393.8" stroke-width="1.1" />
<text stroke="#111" stroke-width="0.26" x="504.5" y="402.2" font-size="7.6" text-anchor="middle" >40</text>
<text stroke="#111" stroke-width="0.26" x="456.35" y="413.3" font-size="7.6" text-anchor="middle" >Time (hr)</text>
<text stroke="#111" stroke-width="0.26" transform="translate(372.6 348.62) rotate(-90)" font-size="8.0" text-anchor="middle">% Rejection of <tspan font-style="italic">B2m</tspan><tspan font-size="5.2" dy="-3.3">-/-</tspan></text>
<polyline points="416.42,354.78 445.78,342.78 504.5,335.33" fill="none" stroke-width="1.7" stroke-dasharray="2.1 1.3"/>
<polyline points="416.42,326.23 445.78,317.37 504.5,312.16" fill="none" stroke-width="1.8"/>
<path d="M416.42 350.64V358.91M414.02 350.64H418.82M414.02 358.91H418.82" fill="none" stroke-width="1.2"/>
<path d="M445.78 340.3V345.26M443.38 340.3H448.18M443.38 345.26H448.18" fill="none" stroke-width="1.2"/>
<path d="M416.42 322.92V329.54M414.02 322.92H418.82M414.02 329.54H418.82" fill="none" stroke-width="1.2"/>
<circle cx="416.42" cy="354.78" r="2.0" fill="#fff" stroke-width="1.5"/>
<circle cx="445.78" cy="342.78" r="2.0" fill="#fff" stroke-width="1.5"/>
<circle cx="504.5" cy="335.33" r="2.0" fill="#fff" stroke-width="1.5"/>
<circle cx="416.42" cy="326.23" r="2.3"/>
<circle cx="445.78" cy="317.37" r="2.3"/>
<circle cx="504.5" cy="312.16" r="2.3"/>
</g>
</svg>
</body></html>
